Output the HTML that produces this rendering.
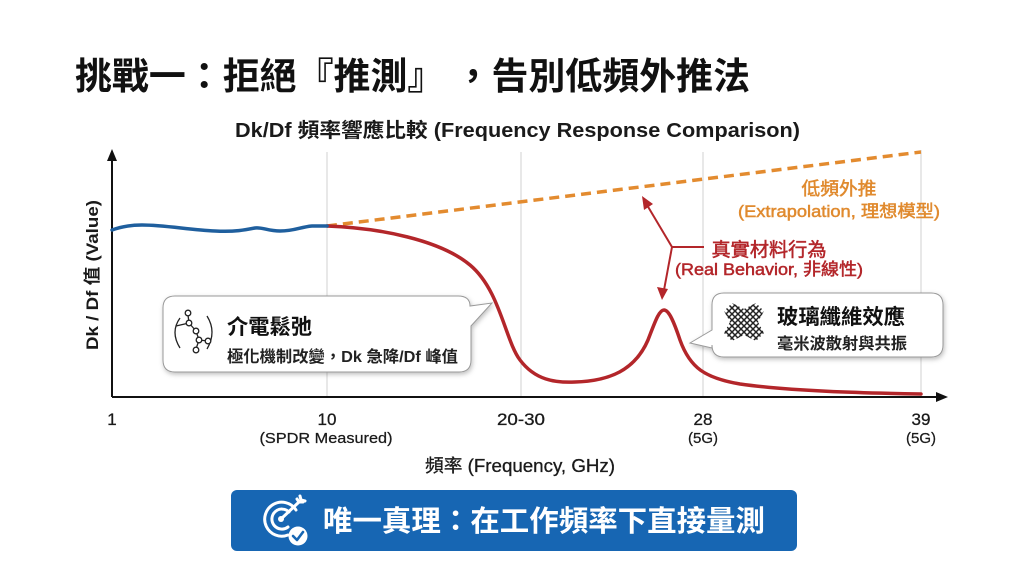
<!DOCTYPE html>
<html>
<head>
<meta charset="utf-8">
<style>
  html,body{margin:0;padding:0;background:#fff;}
  body{width:1024px;height:572px;overflow:hidden;}
  svg{display:block;}
  .t{font-family:"Liberation Sans","Noto Sans CJK TC",sans-serif;}
</style>
</head>
<body>
<svg width="1024" height="572" viewBox="0 0 1024 572" xmlns="http://www.w3.org/2000/svg">
  <defs>
    <filter id="sh" x="-10%" y="-20%" width="130%" height="150%">
      <feDropShadow dx="1" dy="2" stdDeviation="2.5" flood-color="#000" flood-opacity="0.25"/>
    </filter>
    <clipPath id="weaveClip">
      <polygon points="732,303 744,309 756,303 764,311 758,322 764,333 756,341 744,335 732,341 724,333 730,322 724,311"/>
    </clipPath>
  </defs>

  <rect width="1024" height="572" fill="#fff"/>

  <!-- Title -->
  <text class="t" x="75" y="89" font-size="37" font-weight="bold" fill="#111" textLength="675" lengthAdjust="spacingAndGlyphs">挑戰一：拒絕『推測』 ，告別低頻外推法</text>

  <!-- Subtitle -->
  <text class="t" x="235" y="137" font-size="20" font-weight="bold" fill="#1a1a1a" textLength="565" lengthAdjust="spacingAndGlyphs">Dk/Df 頻率響應比較 (Frequency Response Comparison)</text>

  <!-- Grid lines -->
  <g stroke="#d2d2d2" stroke-width="1">
    <line x1="327" y1="152" x2="327" y2="397"/>
    <line x1="521" y1="152" x2="521" y2="397"/>
    <line x1="703" y1="152" x2="703" y2="397"/>
    <line x1="921" y1="150" x2="921" y2="397"/>
  </g>

  <!-- Axes -->
  <line x1="112" y1="397" x2="112" y2="158" stroke="#111" stroke-width="2"/>
  <polygon points="112,149 107,161 117,161" fill="#111"/>
  <line x1="112" y1="397" x2="938" y2="397" stroke="#111" stroke-width="2"/>
  <polygon points="948,397 936,392 936,402" fill="#111"/>

  <!-- Y label -->
  <text class="t" transform="translate(98,275) rotate(-90)" text-anchor="middle" font-size="17" font-weight="bold" fill="#1a1a1a" textLength="150" lengthAdjust="spacingAndGlyphs">Dk / Df 值 (Value)</text>

  <!-- Orange dashed extrapolation -->
  <line x1="327" y1="226" x2="921" y2="152" stroke="#e38b2f" stroke-width="3.5" stroke-dasharray="10 6"/>

  <!-- Red real curve -->
  <path d="M327,226 C380,228 440,240 470,265 C500,290 505,340 520,360 C535,380 555,383 575,382 C610,381 635,370 648,340 C655,322 659,310 664,310 C669,310 674,322 680,340 C690,368 705,378 740,384 C790,391 860,393 921,394" fill="none" stroke="#b3262a" stroke-width="3.5" stroke-linecap="round"/>

  <!-- Blue measured curve -->
  <path d="M112,230 C120,227 130,225 142,225 C165,225 190,230 215,231 C235,232 245,230 255,228 C262,227 268,231 280,231 C295,231 300,227 312,226 L327,226" fill="none" stroke="#1f5f9e" stroke-width="3.5" stroke-linecap="round"/>

  <!-- X tick labels -->
  <g class="t" font-size="17" fill="#1a1a1a" text-anchor="middle" stroke="#1a1a1a" stroke-width="0.3">
    <text x="112" y="425">1</text>
    <text x="327" y="425">10</text>
    <text x="521" y="425" textLength="48" lengthAdjust="spacingAndGlyphs">20-30</text>
    <text x="703" y="425">28</text>
    <text x="921" y="425">39</text>
  </g>
  <g class="t" font-size="15" fill="#1a1a1a" text-anchor="middle" stroke="#1a1a1a" stroke-width="0.25">
    <text x="326" y="443" textLength="133" lengthAdjust="spacingAndGlyphs">(SPDR Measured)</text>
    <text x="703" y="443">(5G)</text>
    <text x="921" y="443">(5G)</text>
  </g>
  <text class="t" x="520" y="472" text-anchor="middle" font-size="18" fill="#1a1a1a" stroke="#1a1a1a" stroke-width="0.3" textLength="190" lengthAdjust="spacingAndGlyphs">頻率 (Frequency, GHz)</text>

  <!-- Orange labels -->
  <g class="t" fill="#e08a2e" text-anchor="middle" stroke="#e08a2e" stroke-width="0.5">
    <text x="839" y="195" font-size="18" textLength="75" lengthAdjust="spacingAndGlyphs">低頻外推</text>
    <text x="839" y="217" font-size="17" textLength="202" lengthAdjust="spacingAndGlyphs">(Extrapolation, 理想模型)</text>
  </g>

  <!-- Red labels -->
  <g class="t" fill="#b3262a" text-anchor="middle" stroke="#b3262a" stroke-width="0.5">
    <text x="769" y="256" font-size="19" textLength="115" lengthAdjust="spacingAndGlyphs">真實材料行為</text>
    <text x="769" y="275" font-size="17" textLength="188" lengthAdjust="spacingAndGlyphs">(Real Behavior, 非線性)</text>
  </g>

  <!-- Red pointer arrows -->
  <g stroke="#b3262a" stroke-width="2" fill="none">
    <line x1="672" y1="247" x2="704" y2="247"/>
    <line x1="672" y1="247" x2="647" y2="205"/>
    <line x1="672" y1="247" x2="664" y2="290"/>
  </g>
  <polygon points="642,196 644,210 653,204" fill="#b3262a"/>
  <polygon points="662,300 657,287 668,289" fill="#b3262a"/>

  <!-- Callout 1 -->
  <path d="M175,296 H458 Q470,296 470,306 L492,303 L471,326 V360 Q471,372 459,372 H175 Q163,372 163,360 V308 Q163,296 175,296 Z" fill="#fff" stroke="#9a9a9a" stroke-width="1" filter="url(#sh)"/>
  <!-- molecule icon -->
  <g stroke="#222" stroke-width="1.3" fill="#fff">
    <path d="M180,318 Q170,332 180,348" fill="none"/>
    <path d="M207,316 Q217,332 207,349" fill="none"/>
    <line x1="188" y1="315" x2="189" y2="323"/>
    <line x1="189" y1="323" x2="196" y2="331"/>
    <line x1="196" y1="331" x2="199" y2="340"/>
    <line x1="199" y1="340" x2="208" y2="341"/>
    <line x1="199" y1="340" x2="196" y2="349"/>
    <line x1="176" y1="326" x2="189" y2="323"/>
    <circle cx="188" cy="313" r="2.8"/>
    <circle cx="189" cy="323" r="2.8"/>
    <circle cx="196" cy="331" r="2.8"/>
    <circle cx="199" cy="340" r="2.8"/>
    <circle cx="208" cy="341" r="2.8"/>
    <circle cx="196" cy="350" r="2.8"/>
  </g>
  <text class="t" x="227" y="334" font-size="21" font-weight="bold" fill="#111" textLength="85" lengthAdjust="spacingAndGlyphs">介電鬆弛</text>
  <text class="t" x="227" y="362" font-size="16" font-weight="bold" fill="#222" textLength="231" lengthAdjust="spacingAndGlyphs">極化機制改變，Dk 急降/Df 峰值</text>

  <!-- Callout 2 -->
  <path d="M724,293 H931 Q943,293 943,305 V345 Q943,357 931,357 H724 Q712,357 712,345 V348 L690,343 L712,330 V305 Q712,293 724,293 Z" fill="#fff" stroke="#9a9a9a" stroke-width="1" filter="url(#sh)"/>
  <!-- glass fiber weave icon -->
  <g clip-path="url(#weaveClip)" stroke="#222" stroke-width="1.5">
    <line x1="700" y1="300" x2="750" y2="350"/>
    <line x1="704" y1="298" x2="754" y2="348"/>
    <line x1="708" y1="296" x2="758" y2="346"/>
    <line x1="712" y1="294" x2="762" y2="344"/>
    <line x1="716" y1="292" x2="766" y2="342"/>
    <line x1="720" y1="290" x2="770" y2="340"/>
    <line x1="724" y1="288" x2="774" y2="338"/>
    <line x1="728" y1="286" x2="778" y2="336"/>
    <line x1="732" y1="284" x2="782" y2="334"/>
    <line x1="696" y1="302" x2="746" y2="352"/>
    <line x1="692" y1="304" x2="742" y2="354"/>
    <line x1="788" y1="300" x2="738" y2="350"/>
    <line x1="784" y1="298" x2="734" y2="348"/>
    <line x1="780" y1="296" x2="730" y2="346"/>
    <line x1="776" y1="294" x2="726" y2="344"/>
    <line x1="772" y1="292" x2="722" y2="342"/>
    <line x1="768" y1="290" x2="718" y2="340"/>
    <line x1="764" y1="288" x2="714" y2="338"/>
    <line x1="760" y1="286" x2="710" y2="336"/>
    <line x1="756" y1="284" x2="706" y2="334"/>
    <line x1="792" y1="302" x2="742" y2="352"/>
    <line x1="796" y1="304" x2="746" y2="354"/>
  </g>
  <text class="t" x="777" y="324" font-size="21" font-weight="bold" fill="#111" textLength="128" lengthAdjust="spacingAndGlyphs">玻璃纖維效應</text>
  <text class="t" x="777" y="349" font-size="16" font-weight="bold" fill="#222" textLength="130" lengthAdjust="spacingAndGlyphs">毫米波散射與共振</text>

  <!-- Bottom banner -->
  <rect x="231" y="490" width="566" height="61" rx="6" fill="#1766b3"/>
  <!-- target icon -->
  <g stroke="#fff" stroke-width="3" fill="none" stroke-linecap="round">
    <path d="M296,510 A17,17 0 1 0 288,535"/>
    <path d="M289,512 A10,10 0 1 0 288,527"/>
    <line x1="281" y1="519" x2="299" y2="502"/>
    <path d="M297,499 L299,502 L303,502"/>
    <path d="M300,496 L301,500 L305,501"/>
  </g>
  <circle cx="281" cy="519" r="3" fill="#fff"/>
  <circle cx="298" cy="536" r="9.5" fill="#fff"/>
  <path d="M293,536 L297,540 L303,532" stroke="#1766b3" stroke-width="2.6" fill="none" stroke-linecap="round" stroke-linejoin="round"/>
  <text class="t" x="323" y="531" font-size="29" font-weight="bold" fill="#fff" textLength="442" lengthAdjust="spacingAndGlyphs">唯一真理：在工作頻率下直接量測</text>
</svg>
</body>
</html>
